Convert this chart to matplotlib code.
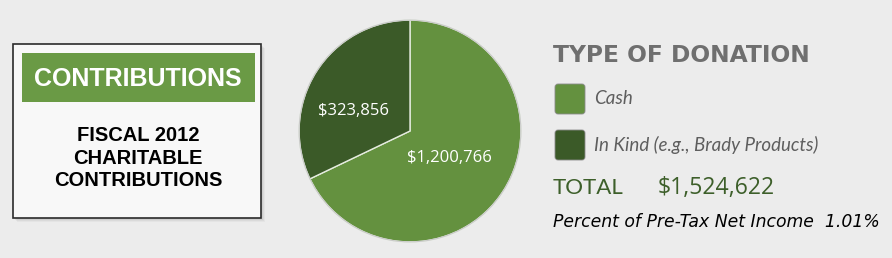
import matplotlib
matplotlib.use("Agg")
import matplotlib.pyplot as plt
from matplotlib.patches import Rectangle, FancyBboxPatch

# Data
categories = ["Cash", "In Kind (e.g., Brady Products)"]
amount_labels = ["$1,200,766", "$323,856"]
# slice shares as drawn in the original graphic (percent of the circle)
slice_share = [67.9, 32.1]
total_label = "$1,524,622"
pct_income = "1.01%"

COLOR_CASH = "#64913f"
COLOR_KIND = "#3b5a28"
COLOR_BANNER = "#6a9a45"
COLOR_BG = "#ececec"
COLOR_TITLE = "#6f6f6f"
COLOR_TOTAL = "#3d5f2a"

W, H = 892, 258
fig = plt.figure(figsize=(W / 100, H / 100), dpi=100)
fig.patch.set_facecolor(COLOR_BG)

# Layout axes in pixel coordinates (y down)
lay = fig.add_axes([0, 0, 1, 1])
lay.set_xlim(0, W)
lay.set_ylim(H, 0)
lay.axis("off")

# Left box with soft shadow
for i, a in enumerate([0.05, 0.04, 0.03]):
    lay.add_patch(Rectangle((13 + 2 + i, 44 + 2 + i), 248, 174, facecolor="black",
                            alpha=a, edgecolor="none", zorder=1))
lay.add_patch(Rectangle((13, 44), 248, 174, facecolor="#f8f8f8",
                        edgecolor="#2b2b2b", linewidth=1.2, zorder=2))
lay.add_patch(Rectangle((22, 53), 233, 49, facecolor=COLOR_BANNER,
                        edgecolor="none", zorder=3))
lay.text(138, 79, "CONTRIBUTIONS", color="white", fontsize=18, fontweight="bold",
         family="Liberation Sans", ha="center", va="center", zorder=4)
lay.text(138, 158, "FISCAL 2012\nCHARITABLE\nCONTRIBUTIONS", color="black",
         fontsize=14.5, fontweight="bold", family="Liberation Sans", ha="center",
         va="center", linespacing=1.22, zorder=4)

# Right-hand legend block
lay.text(553, 56, "TYPE OF DONATION", color=COLOR_TITLE, fontsize=16.8,
         fontweight="bold", family="DejaVu Sans", ha="left", va="center")
legend_y = [99, 145]
for cat, col, y in zip(categories, [COLOR_CASH, COLOR_KIND], legend_y):
    lay.add_patch(FancyBboxPatch((555, y - 15), 30, 30,
                                 boxstyle="round,pad=0,rounding_size=3",
                                 facecolor=col, edgecolor="#8a8a8a", linewidth=0.6))
    lay.text(594, y, cat, color="#5e5e5e", fontsize=13.5, style="italic",
             family="Lato", ha="left", va="center")
lay.text(553, 188, "TOTAL", color=COLOR_TOTAL, fontsize=16, family="Lato",
         ha="left", va="center")
lay.text(658, 188, total_label, color=COLOR_TOTAL, fontsize=16.6, family="Open Sans",
         ha="left", va="center")
lay.text(553, 222, "Percent of Pre-Tax Net Income  " + pct_income, color="black",
         fontsize=12.4, style="italic", family="DejaVu Sans", ha="left", va="center")

# Pie
cx, cy, r = 410, 131, 112
pax = fig.add_axes([(cx - r) / W, (H - cy - r) / H, 2 * r / W, 2 * r / H])
wedges, _ = pax.pie(slice_share, colors=[COLOR_CASH, COLOR_KIND], startangle=90,
                    counterclock=False, radius=1,
                    wedgeprops={"edgecolor": "#e6ece0", "linewidth": 1.0})
pax.add_patch(plt.Circle((0, 0), 1.0, fill=False, edgecolor="#c9c9c9", linewidth=0.8))
pax.set_xlim(-1.01, 1.01)
pax.set_ylim(-1.01, 1.01)
pax.text(0.36, -0.24, amount_labels[0], color="white", fontsize=12,
         family="Open Sans", ha="center", va="center")
pax.text(-0.51, 0.18, amount_labels[1], color="white", fontsize=12,
         family="Open Sans", ha="center", va="center")

fig.savefig("out.png", dpi=100, facecolor=COLOR_BG)
